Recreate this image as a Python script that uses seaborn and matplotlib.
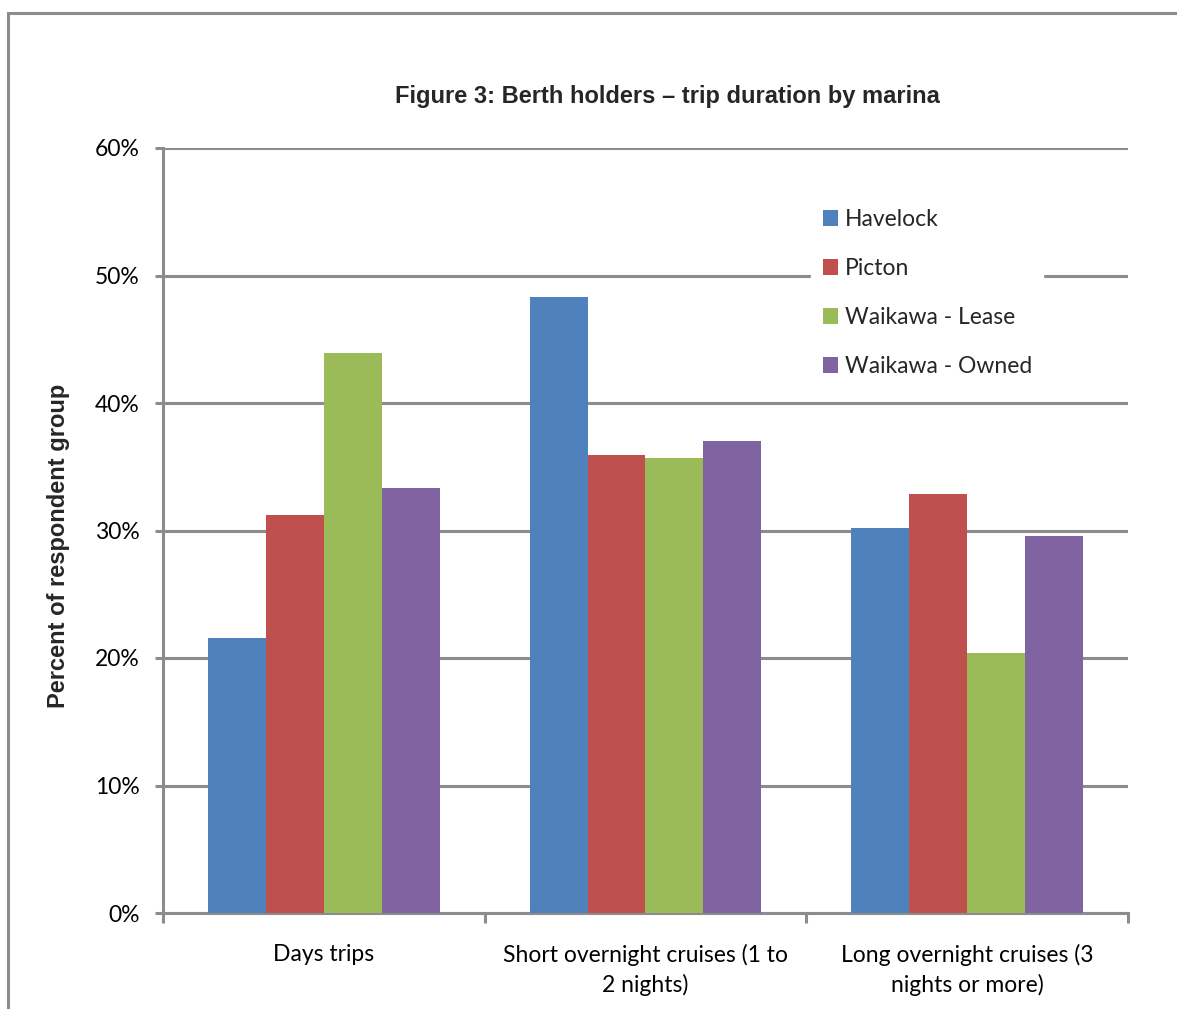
import pandas as pd
import matplotlib.pyplot as plt
import matplotlib.patches as mpatches
from matplotlib.ticker import PercentFormatter, FixedLocator
import seaborn as sns

sns.set_theme(style="white")

# data
durations = ["Days trips", "Short overnight cruises (1 to\n2 nights)", "Long overnight cruises (3\nnights or more)"]
marinas = ["Havelock", "Picton", "Waikawa - Lease", "Waikawa - Owned"]
havelock = [21.6, 48.3, 30.2]
picton = [31.2, 35.9, 32.9]
waikawa_lease = [43.9, 35.7, 20.4]
waikawa_owned = [33.3, 37.0, 29.6]
colors = ["#4F81BD", "#C0504D", "#9BBB59", "#8064A2"]

rows = []
for name, vals in zip(marinas, [havelock, picton, waikawa_lease, waikawa_owned]):
    for d, v in zip(durations, vals):
        rows.append({"Duration": d, "Marina": name, "Percent": v})
df = pd.DataFrame(rows)

grid_c = "#8c8c8c"
fig = plt.figure(figsize=(11.77, 10.09), dpi=100)
ax = fig.add_axes([163 / 1177, 1 - 913 / 1009, (1128 - 163) / 1177, (913 - 148) / 1009])

# outer chart frame
fig.patches.append(mpatches.Rectangle((8 / 1177, -0.05), 1.2, 1 - 13 / 1009 + 0.05,
                                      transform=fig.transFigure, fill=False,
                                      edgecolor=grid_c, linewidth=2.2))

sns.barplot(data=df, x="Duration", y="Percent", hue="Marina", order=durations,
            hue_order=marinas, palette=colors, width=0.72, saturation=1,
            edgecolor="none", linewidth=0, ax=ax, zorder=3)

ax.set_ylim(0, 60)
ax.set_xlim(-0.5, 2.5)
ax.set_yticks(range(0, 61, 10))
ax.yaxis.set_major_formatter(PercentFormatter(decimals=0))
ax.grid(axis="y", color=grid_c, linewidth=2.2, zorder=0)
ax.set_axisbelow(True)

for s in ["top", "right"]:
    ax.spines[s].set_visible(False)
for s in ["left", "bottom"]:
    ax.spines[s].set_color(grid_c)
    ax.spines[s].set_linewidth(2.2)

lab_font = "Lato"
fs = 16.5
ax.tick_params(axis="y", length=6, width=2.2, color=grid_c, direction="out",
               labelsize=fs, pad=11, left=True)
ax.tick_params(axis="x", which="major", length=0, labelsize=fs, pad=22)
ax.xaxis.set_minor_locator(FixedLocator([-0.5, 0.5, 1.5, 2.5]))
ax.tick_params(axis="x", which="minor", length=7, width=2.2, color=grid_c,
               direction="out", bottom=True)
for t in ax.get_yticklabels() + ax.get_xticklabels():
    t.set_fontfamily(lab_font)
    t.set_color("black")
for t in ax.get_xticklabels():
    t.set_linespacing(1.45)

ax.set_xlabel("")
ax.set_ylabel("Percent of respondent group", fontsize=17, fontweight="bold",
              fontfamily="Liberation Sans")
ax.yaxis.set_label_coords(-0.096, 0.48)

fig.text(667 / 1177, 1 - 96 / 1009, "Figure 3: Berth holders \u2013 trip duration by marina",
         ha="center", va="center", fontsize=17, fontweight="bold",
         fontfamily="Liberation Sans")

leg = ax.legend(title=None, loc="upper left", bbox_to_anchor=(0.66, 0.95),
                frameon=True, fancybox=False, edgecolor="white", framealpha=1,
                prop={"family": lab_font, "size": fs}, handlelength=0.65,
                handleheight=0.65, handletextpad=0.3, labelspacing=1.22,
                borderpad=0.5)
leg.set_zorder(5)

fig.savefig("out.png", dpi=100)
plt.close()
